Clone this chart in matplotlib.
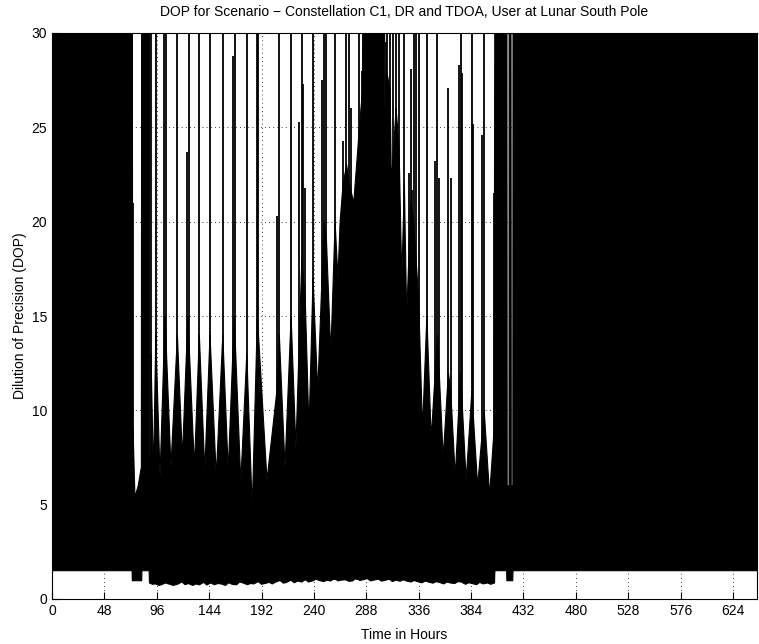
import matplotlib
matplotlib.use('Agg')
import matplotlib.pyplot as plt
import numpy as np

plt.rcParams['font.family'] = ['Liberation Sans', 'DejaVu Sans']

# upper edge of the dense (solid black) part of the DOP trace, hours / DOP
env_t = [0, 73.6, 73.9, 74.3, 76, 79, 81.9, 82.2, 89.2, 89.6,
         90.7, 93, 95.1, 99, 103.6, 109, 114.9, 119.5, 124.5, 130.5,
         135, 140, 144.8, 150.5, 156.5, 161.5, 167, 173, 178.5, 183.5,
         188.2, 197, 206, 208.3, 213.5, 219.1, 223.5, 228.9, 232, 235.5,
         239.2, 243.5, 249.3, 251.5, 255.5, 259.4, 262, 264, 266.7, 270,
         272.5, 276.5, 281.7, 284.5, 285, 304.3, 305, 306.6, 309.8, 311,
         315.3, 318, 320.5, 322.9, 325, 328.8, 331.4, 333.6, 335.9, 339.5,
         343.5, 347.5, 353.2, 358.5, 363.2, 365.4, 369.5, 374.4, 379.5, 384.7,
         390, 396, 401, 405.1, 406, 416.8, 417.1, 418.8, 418.9, 420.5,
         420.8, 422.3, 422.5, 646]
env_hi = [40, 40, 5.6, 9, 5.4, 6, 7, 40, 40, 7,
          13, 6.5, 14, 6.5, 15, 7, 14, 7.5, 15, 7,
          14, 6.8, 14, 6.5, 14, 6.8, 15, 6.2, 13, 4.8,
          15, 6.3, 11, 14, 7, 15, 8, 18, 16, 9,
          17, 11, 20, 19, 13, 20, 17, 20, 22, 23,
          22, 21, 25, 27, 40, 40, 26, 28, 27, 22,
          26, 24, 17, 22, 15, 21, 20, 18, 16, 9,
          15, 8.5, 14, 7.5, 12, 11, 6.5, 12, 6.3, 11,
          6, 10, 5.5, 9, 40, 40, 6, 6, 40, 40,
          6, 6, 40, 40]

# lower edge of the trace
low_t = [0, 73.4, 73.6, 82.2, 82.4, 89.0, 89.3, 92, 95, 98,
         100, 104, 108, 111, 115, 119, 122, 125, 129, 132,
         135, 139, 142, 145, 149, 152, 155, 159, 162, 165,
         169, 172, 175, 179, 182, 185, 189, 192, 195, 199,
         202, 205, 209, 212, 215, 219, 222, 225, 229, 232,
         235, 239, 242, 245, 249, 252, 255, 259, 262, 265,
         269, 272, 275, 279, 282, 285, 289, 292, 295, 299,
         302, 305, 309, 312, 315, 319, 322, 325, 329, 332,
         335, 339, 342, 345, 349, 352, 355, 359, 362, 365,
         369, 372, 375, 379, 382, 385, 389, 392, 395, 399,
         402, 405.5, 405.8, 416.6, 416.8, 422.2, 422.4, 646]
low_v = [1.5, 1.5, 0.97, 0.97, 1.5, 1.5, 0.85, 0.78, 0.8, 0.72,
         0.75, 0.85, 0.78, 0.72, 0.78, 0.9, 0.76, 0.82, 0.72, 0.8,
         0.75, 0.88, 0.74, 0.85, 0.76, 0.82, 0.8, 0.72, 0.86, 0.78,
         0.75, 0.9, 0.85, 0.76, 0.82, 0.8, 0.92, 0.78, 0.82, 0.88,
         0.8, 0.9, 0.98, 0.84, 0.88, 1.0, 0.86, 0.95, 0.9, 1.02,
         0.9, 0.96, 1.05, 0.98, 0.92, 1.0, 0.95, 1.08, 0.96, 1.0,
         1.02, 0.94, 0.95, 1.1, 0.98, 1.02, 1.08, 0.96, 1.0, 1.05,
         0.95, 0.98, 1.06, 0.92, 1.0, 0.94, 1.02, 0.95, 0.9, 0.98,
         0.92, 0.86, 0.95, 0.9, 0.84, 0.92, 0.88, 0.8, 0.9, 0.85,
         0.82, 0.92, 0.9, 0.78, 0.86, 0.82, 0.76, 0.88, 0.8, 0.85,
         0.78, 0.85, 1.5, 1.5, 0.97, 0.97, 1.5, 1.5]

# isolated DOP spikes (hours, peak DOP; 35 = off the top of the plot)
spike_t = [74.3, 90.7, 95.1, 102.7, 104.5, 114.9, 124.0, 125.9, 135.0, 144.8,
           156.5, 166.2, 167.7, 178.5, 187.5, 188.9, 206.0, 208.3, 219.1, 226.7,
           228.9, 230.1, 231.9, 239.2, 247.2, 249.3, 251.2, 259.4, 266.7, 269.0,
           271.8, 274.1, 279.3, 281.7, 283.9, 305.7, 306.6, 308.4, 309.8, 312.6,
           315.3, 318.0, 322.9, 327.5, 328.8, 330.3, 331.4, 333.6, 335.9, 343.5,
           351.1, 353.2, 355.0, 363.2, 365.4, 373.0, 374.4, 376.0, 384.7, 385.6,
           393.9, 396.0, 405.1]
spike_top = [21, 35, 35, 35, 35, 35, 23.7, 35, 35, 35,
             35, 28.8, 35, 35, 35, 35, 20.3, 35, 35, 25.3,
             35, 27.3, 21.8, 35, 27.5, 35, 35, 35, 24.3, 35,
             35, 26, 21.1, 35, 28, 29.5, 35, 23.6, 35, 35,
             35, 35, 35, 22.6, 28.1, 21.7, 35, 35, 35, 35,
             23.2, 35, 22.3, 27.1, 22.3, 28.3, 35, 27.9, 35, 25.2,
             24.6, 35, 21.5]

xticks = np.arange(0, 625, 48)
yticks = np.arange(0, 31, 5)

fig = plt.figure(figsize=(7.59, 6.44), dpi=100)
ax = fig.add_axes([52 / 759, 45 / 644, 705 / 759, 566 / 644])

# MATLAB style dotted grid
for x in xticks[1:]:
    ax.axvline(x, color='k', lw=0.6, ls=(0, (1, 4)), zorder=0)
for y in yticks[1:-1]:
    ax.axhline(y, color='k', lw=0.6, ls=(0, (1, 4)), zorder=0)

t_all = np.union1d(env_t, low_t)
hi = np.interp(t_all, env_t, env_hi)
lo = np.interp(t_all, low_t, low_v)
ax.fill_between(t_all, lo, hi, color='k', lw=0.8, edgecolor='k', zorder=2)
ax.vlines(spike_t, 1.0, spike_top, color='k', lw=1.3, zorder=3)

ax.set_xlim(0, 646)
ax.set_ylim(0, 30)
ax.set_xticks(xticks)
ax.set_yticks(yticks)
ax.tick_params(direction='in', length=5, labelsize=10, top=False, right=False)
for s in ax.spines.values():
    s.set_linewidth(0.8)

ax.set_title('DOP for Scenario \u2212 Constellation C1, DR and TDOA, User at Lunar South Pole',
             fontsize=10, pad=12)
ax.set_xlabel('Time in Hours', fontsize=10, labelpad=7)
ax.set_ylabel('Dilution of Precision (DOP)', fontsize=10, labelpad=3)

plt.savefig('out.png', dpi=100)
plt.close()
